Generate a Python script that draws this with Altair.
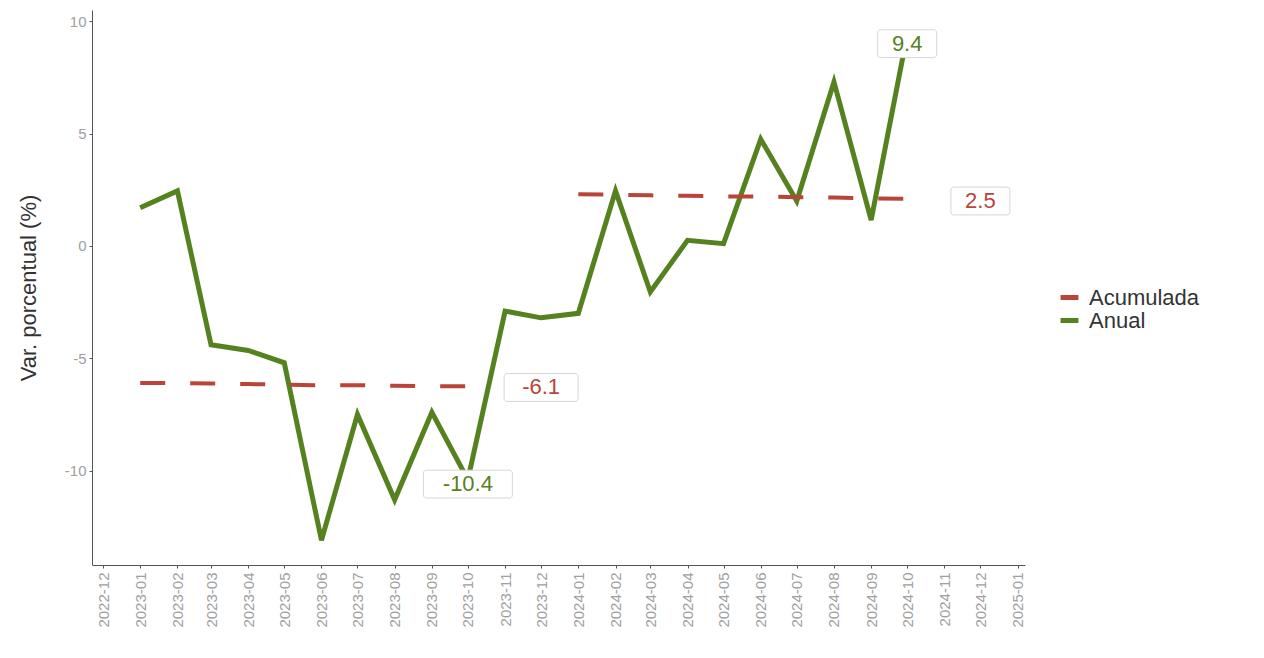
import altair as alt
import pandas as pd

# ---- data ----
months = ["2023-01", "2023-02", "2023-03", "2023-04", "2023-05", "2023-06",
          "2023-07", "2023-08", "2023-09", "2023-10", "2023-11", "2023-12",
          "2024-01", "2024-02", "2024-03", "2024-04", "2024-05", "2024-06",
          "2024-07", "2024-08", "2024-09", "2024-10"]
anual = [1.7, 2.45, -4.4, -4.65, -5.2, -13.1, -7.5, -11.3, -7.4, -10.4, -2.9,
         -3.2, -3.0, 2.45, -2.05, 0.25, 0.1, 4.75, 2.0, 7.3, 1.15, 9.4]

acum_months_2023 = months[0:10]
acum_2023 = [-6.1, -6.1, -6.12, -6.15, -6.17, -6.2, -6.2, -6.22, -6.25, -6.25]
acum_months_2024 = months[12:22]
acum_2024 = [2.3, 2.28, 2.25, 2.23, 2.2, 2.2, 2.17, 2.15, 2.12, 2.1]

label_text = ["-6.1", "2.5", "-10.4", "9.4"]
label_month = ["2023-12", "2024-12", "2023-10", "2024-10"]
label_value = [-6.3, 2.0, -10.6, 9.0]
label_serie = ["Acumulada", "Acumulada", "Anual", "Anual"]

series = ["Acumulada", "Anual"]
colors = ["#b8443a", "#55821f"]

# ---- tables ----
df_anual = pd.DataFrame({"fecha": [m + "-01" for m in months], "valor": anual,
                         "serie": "Anual", "grupo": "a"})
df_acum = pd.DataFrame({
    "fecha": [m + "-01" for m in acum_months_2023 + acum_months_2024],
    "valor": acum_2023 + acum_2024,
    "serie": "Acumulada",
    "grupo": ["2023"] * len(acum_2023) + ["2024"] * len(acum_2024),
})
df_lab = pd.DataFrame({"fecha": [m + "-01" for m in label_month], "valor": label_value,
                       "texto": label_text, "serie": label_serie})
df_lab["lo"] = df_lab["valor"] - 0.62
df_lab["hi"] = df_lab["valor"] + 0.62
df_lab["w"] = [15 * len(t) + 14 for t in label_text]

font = "Liberation Sans"

x_scale = alt.Scale(domain=[alt.DateTime(year=2022, month=11, date=26),
                            alt.DateTime(year=2025, month=1, date=3)])
y_scale = alt.Scale(domain=[-14.2, 10.5], nice=False, zero=False)
color_scale = alt.Scale(domain=series, range=colors)

x_enc = alt.X("fecha:T", scale=x_scale, title=None,
              axis=alt.Axis(format="%Y-%m", tickCount={"interval": "month", "step": 1},
                            labelAngle=270, labelAlign="right", labelBaseline="middle",
                            labelColor="#a0a0a0", labelFontSize=15, labelFont=font,
                            labelPadding=4, tickSize=3, tickColor="#555",
                            domainColor="#555", grid=False, labelOverlap=False))
y_enc = alt.Y("valor:Q", scale=y_scale, title="Var. porcentual (%)",
              axis=alt.Axis(values=[-10, -5, 0, 5, 10], labelColor="#a0a0a0",
                            labelExpr="replace(datum.label, '\u2212', '-')",
                            labelFontSize=15, labelFont=font, tickSize=3,
                            tickColor="#555", domainColor="#555", grid=False,
                            labelPadding=3, titleFont=font, titleFontSize=22,
                            titleFontWeight="normal", titleColor="#333",
                            titlePadding=24))

legend = alt.Legend(title=None, orient="none", legendX=966, legendY=276,
                    symbolType="stroke", symbolStrokeWidth=5, symbolSize=320,
                    labelFontSize=22, labelFont=font, labelColor="#333",
                    rowPadding=0, labelOffset=8)

line_anual = alt.Chart(df_anual).mark_line(strokeWidth=5, strokeJoin="miter").encode(
    x=x_enc, y=y_enc,
    color=alt.Color("serie:N", scale=color_scale, legend=legend),
)
line_acum = alt.Chart(df_acum).mark_line(strokeWidth=4, strokeDash=[25, 25]).encode(
    x=x_enc, y=y_enc, detail="grupo:N",
    color=alt.Color("serie:N", scale=color_scale, legend=legend),
)
boxes = alt.Chart(df_lab).mark_bar(fill="white", stroke="#d6d6d6", strokeWidth=1,
                                   cornerRadius=3).encode(
    x=x_enc, y=alt.Y("lo:Q", scale=y_scale), y2="hi:Q",
    size=alt.Size("w:Q", scale=None, legend=None),
)
texts = alt.Chart(df_lab).mark_text(fontSize=22, font=font, baseline="middle",
                                    align="center").encode(
    x=x_enc, y=alt.Y("valor:Q", scale=y_scale), text="texto:N",
    color=alt.Color("serie:N", scale=color_scale, legend=legend),
)

chart = alt.layer(line_anual, line_acum, boxes, texts).properties(
    width=933, height=555, background="white",
    padding={"left": 9, "top": 2, "right": 5, "bottom": 5},
).configure_view(stroke=None, strokeWidth=0)

chart.save("out.html", embed_options={"renderer": "svg", "actions": False})
